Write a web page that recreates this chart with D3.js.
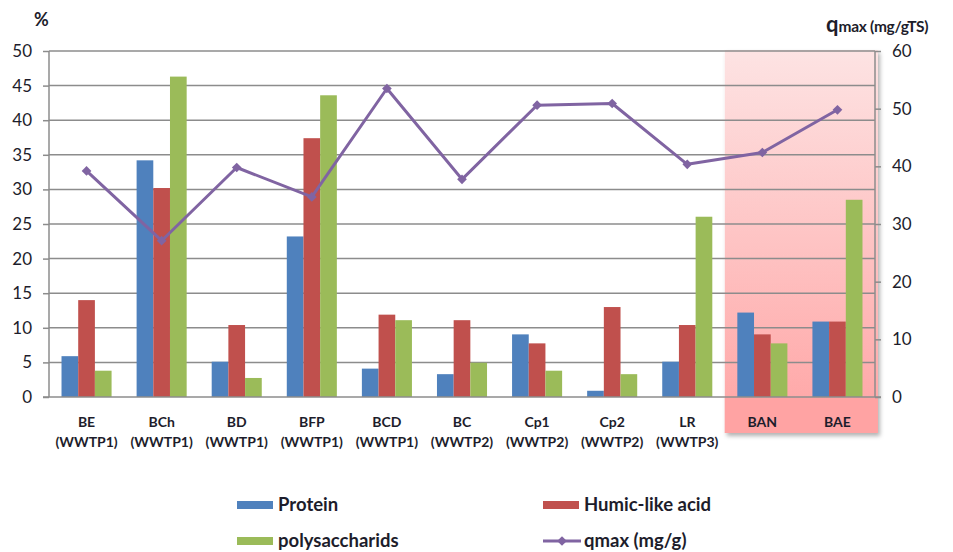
<!DOCTYPE html>
<html><head><meta charset="utf-8">
<script src="https://cdn.jsdelivr.net/npm/d3@7"></script>
<style>
body{margin:0;background:#fff;}
svg{display:block;font-family:Lato,"Open Sans",sans-serif;}
</style></head>
<body>
<svg id="chart" width="953" height="552"></svg>
<script>
const categories = ["BE","BCh","BD","BFP","BCD","BC","Cp1","Cp2","LR","BAN","BAE"];
const plants = ["(WWTP1)","(WWTP1)","(WWTP1)","(WWTP1)","(WWTP1)","(WWTP2)","(WWTP2)","(WWTP2)","(WWTP3)","",""];
const protein = [5.9,34.2,5.1,23.2,4.1,3.3,9.05,0.9,5.1,12.2,10.9];
const humic = [14.0,30.2,10.4,37.4,11.9,11.1,7.75,13.0,10.4,9.05,10.9];
const polysaccharids = [3.8,46.3,2.75,43.6,11.1,4.95,3.8,3.3,26.05,7.75,28.5];
const qmax = [39.2,27.1,39.8,34.7,53.5,37.75,50.6,50.9,40.35,42.4,49.8];
const leftTicks = [0,5,10,15,20,25,30,35,40,45,50];
const rightTicks = [0,10,20,30,40,50,60];
const seriesNames = ["Protein","Humic-like acid","polysaccharids"];
const seriesColors = ["#4f81bd","#c0504d","#9bbb59"];
const lineColor = "#8064a2";
const highlighted = ["BAN","BAE"];

const svg = d3.select("#chart");
const L = 49, R = 875, T = 51, B = 397;
const textColor = "#1d1d2b";
const gridColor = "#8c8c8c";

const x = d3.scaleBand().domain(categories).range([L, R]).paddingInner(0).paddingOuter(0);
const x1 = d3.scaleBand().domain(seriesNames).range([0, x.bandwidth()]).paddingInner(0).paddingOuter(0.75);
const y = d3.scaleLinear().domain([0, 50]).range([B, T]);
const y2 = d3.scaleLinear().domain([0, 60]).range([B, T]);

const defs = svg.append("defs");
const grad = defs.append("linearGradient").attr("id","pinkGrad").attr("x1",0).attr("y1",0).attr("x2",0).attr("y2",1);
grad.append("stop").attr("offset","0%").attr("stop-color","#fde3e3");
grad.append("stop").attr("offset","100%").attr("stop-color","#ffa4a4");
const sh = defs.append("filter").attr("id","shadow").attr("x","-10%").attr("y","-10%").attr("width","130%").attr("height","130%");
sh.append("feDropShadow").attr("dx",2).attr("dy",3).attr("stdDeviation",2).attr("flood-color","#000").attr("flood-opacity",0.3);

// highlighted region
const hx0 = x(highlighted[0]);
svg.append("rect")
  .attr("x", hx0).attr("y", T - 1)
  .attr("width", R + 3 - hx0).attr("height", 433 - (T - 1))
  .attr("fill", "url(#pinkGrad)")
  .attr("filter", "url(#shadow)");
svg.append("rect")
  .attr("x", hx0).attr("y", B + 1)
  .attr("width", R + 3 - hx0).attr("height", 433 - B - 1)
  .attr("fill", "#ffa3a3");

// gridlines
svg.append("g").selectAll("line").data(leftTicks.filter(d => d > 0)).join("line")
  .attr("x1", L).attr("x2", R).attr("y1", d => y(d)).attr("y2", d => y(d))
  .attr("stroke", gridColor).attr("stroke-width", 1.5);

// bars
const allSeries = [protein, humic, polysaccharids];
categories.forEach((c, i) => {
  const g = svg.append("g").attr("transform", `translate(${x(c)},0)`);
  seriesNames.forEach((s, j) => {
    const v = allSeries[j][i];
    g.append("rect")
      .attr("x", x1(s)).attr("y", y(v))
      .attr("width", x1.bandwidth()).attr("height", y(0) - y(v))
      .attr("fill", seriesColors[j]);
  });
});

// axes lines
svg.append("line").attr("x1", L).attr("x2", L).attr("y1", T).attr("y2", B).attr("stroke", gridColor).attr("stroke-width", 1.5);
svg.append("line").attr("x1", R).attr("x2", R).attr("y1", T).attr("y2", B).attr("stroke", gridColor).attr("stroke-width", 1.5);
svg.append("line").attr("x1", L - 6).attr("x2", R + 6).attr("y1", B).attr("y2", B).attr("stroke", gridColor).attr("stroke-width", 1.5);

// left axis
const axL = svg.append("g").attr("transform", `translate(${L},0)`)
  .call(d3.axisLeft(y).tickValues(leftTicks).tickSize(6).tickPadding(11));
axL.select(".domain").remove();
axL.selectAll(".tick line").attr("stroke", gridColor).attr("stroke-width", 1.5);
axL.selectAll(".tick text").attr("fill", textColor).style("font-size", "17px").style("font-family", "Lato, sans-serif");

// right axis
const axR = svg.append("g").attr("transform", `translate(${R},0)`)
  .call(d3.axisRight(y2).tickValues(rightTicks).tickSize(6).tickPadding(11));
axR.select(".domain").remove();
axR.selectAll(".tick line").attr("stroke", gridColor).attr("stroke-width", 1.5);
axR.selectAll(".tick text").attr("fill", textColor).style("font-size", "17px").style("font-family", "Lato, sans-serif");

// x labels
const xl = svg.append("g");
categories.forEach((c, i) => {
  const cx = x(c) + x.bandwidth() / 2;
  const two = plants[i] !== "";
  xl.append("text").attr("x", cx).attr("y", 427)
    .attr("text-anchor", "middle").attr("fill", textColor)
    .style("font-size", "14px").style("font-weight", "bold").text(c);
  if (two) xl.append("text").attr("x", cx).attr("y", 447)
    .attr("text-anchor", "middle").attr("fill", textColor)
    .style("font-size", "14px").style("font-weight", "bold").text(plants[i]);
});

// qmax line
const line = d3.line().x((d, i) => x(categories[i]) + x.bandwidth() / 2).y(d => y2(d));
svg.append("path").datum(qmax).attr("d", line).attr("fill", "none")
  .attr("stroke", lineColor).attr("stroke-width", 3).attr("stroke-linejoin", "round");
const diamond = d3.symbol().type(d3.symbolDiamond2).size(60);
svg.append("g").selectAll("path").data(qmax).join("path")
  .attr("transform", (d, i) => `translate(${x(categories[i]) + x.bandwidth() / 2},${y2(d)})`)
  .attr("d", diamond).attr("fill", lineColor);

// axis titles
svg.append("text").attr("x", 34).attr("y", 26).attr("fill", textColor)
  .style("font-size", "18px").style("font-weight", "bold").text("%");
const qt = svg.append("text").attr("x", 826).attr("y", 32).attr("fill", textColor).style("font-weight", "bold");
qt.append("tspan").style("font-size", "22px").text("q");
qt.append("tspan").style("font-size", "15.5px").attr("letter-spacing", "-0.3px").text("max (mg/gTS)");

// legend
const leg = svg.append("g");
const legItems = [
  {name: seriesNames[0], color: seriesColors[0], x: 237, y: 505, type: "bar"},
  {name: seriesNames[1], color: seriesColors[1], x: 543, y: 505, type: "bar"},
  {name: seriesNames[2], color: seriesColors[2], x: 237, y: 541, type: "bar"},
  {name: "qmax (mg/g)", color: lineColor, x: 543, y: 541, type: "line"}
];
legItems.forEach(it => {
  if (it.type === "bar") {
    leg.append("rect").attr("x", it.x).attr("y", it.y - 4).attr("width", 36).attr("height", 8).attr("fill", it.color);
  } else {
    leg.append("line").attr("x1", it.x).attr("x2", it.x + 38).attr("y1", it.y).attr("y2", it.y)
      .attr("stroke", it.color).attr("stroke-width", 3);
    leg.append("path").attr("transform", `translate(${it.x + 19},${it.y})`).attr("d", diamond).attr("fill", it.color);
  }
  leg.append("text").attr("x", it.x + 41).attr("y", it.y + 6).attr("fill", textColor)
    .style("font-size", "18.5px").style("font-weight", "bold").text(it.name);
});
</script>
</body></html>
